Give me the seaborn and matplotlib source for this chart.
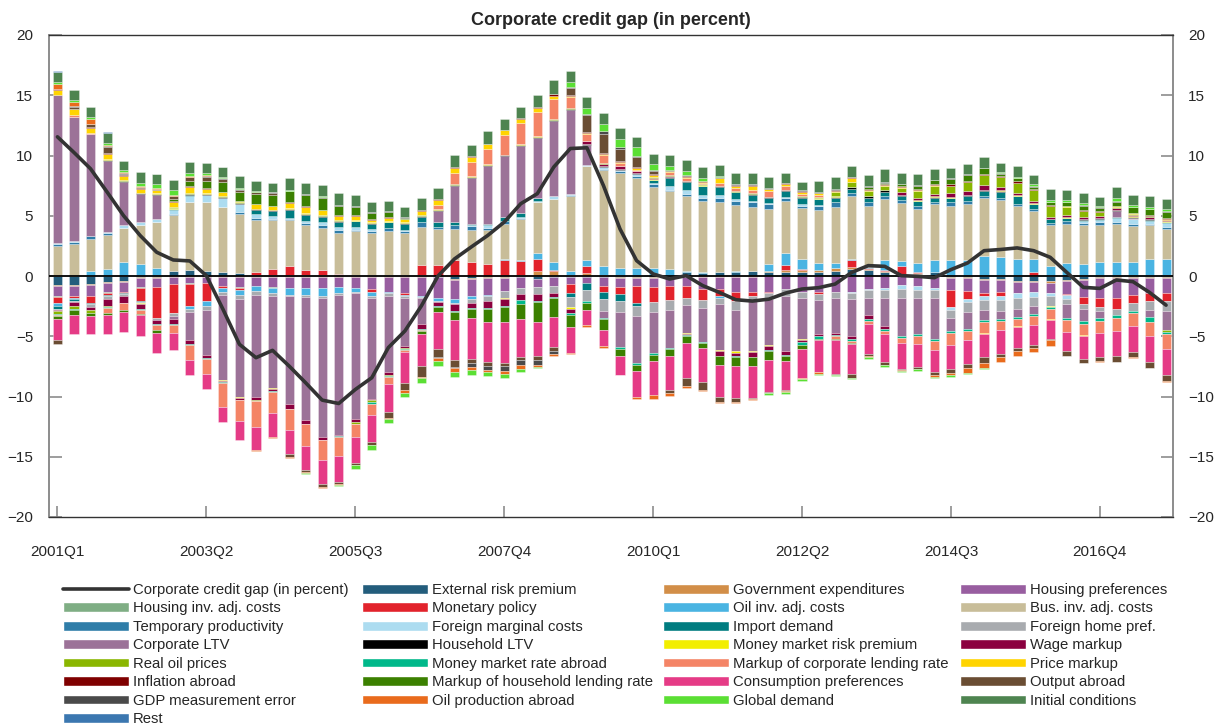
import numpy as np
import matplotlib
matplotlib.use("Agg")
import matplotlib.pyplot as plt
from matplotlib.patches import Patch
from matplotlib.lines import Line2D
import seaborn as sns

# quarters 2001Q1 .. 2017Q4
QUARTERS = [f"{y}Q{q}" for y in range(2001, 2018) for q in range(1, 5)]

# Corporate credit gap (line)
GAP = [11.55, 10.25, 8.9, 6.97, 5.0, 3.36, 1.97, 1.33, 1.25, 0.03, -2.75, -5.67, -6.78, -6.17, -7.47, -8.86, -10.3,
       -10.58, -9.42, -8.44, -5.94, -4.56, -2.47, 0.0, 1.42, 2.4, 3.36, 4.47, 6.0, 6.83, 9.05, 10.58, 10.64, 7.5,
       3.9, 1.28, 0.17, -0.25, 0.03, -0.8, -1.36, -1.97, -2.08, -1.92, -1.42, -1.08, -0.97, -0.67, 0.3, 0.86, 0.8,
       0.03, -0.03, -0.14, 0.53, 1.08, 2.1, 2.2, 2.33, 2.1, 1.55, 0.3, -0.94, -1.03, -0.33, -0.47, -1.36, -2.42]

# shock contributions, in stacking order
ERP = [-0.75, -0.75, -0.65, -0.5, -0.4, -0.1, -0.1, 0.4, 0.5, 0.45, 0.3, 0.25, 0.05, 0.05, 0.05, 0.05, 0.05,
       0.05, 0.05, 0.05, 0.05, 0.05, 0.05, -0.05, -0.25, -0.2, -0.1, -0.1, -0.1, -0.25, -0.1, -0.1, -0.1, -0.1,
       -0.1, -0.1, -0.1, -0.1, 0.3, 0.25, 0.35, 0.35, 0.4, 0.3, 0.35, 0.3, 0.3, 0.45, 0.55, 0.5, 0.3,
       0.1, 0.15, 0.3, -0.1, -0.1, -0.25, -0.25, -0.4, -0.4, -0.45, -0.3, -0.25, -0.1, -0.1, -0.1, -0.1, -0.1]
GOV = [-0.05, -0.05, -0.1, -0.1, -0.08, -0.1, -0.05, -0.05, -0.05, -0.05, -0.05, -0.05, -0.05, -0.05, -0.05, -0.05, -0.05,
       -0.05, -0.05, -0.05, -0.05, -0.05, -0.05, -0.05, -0.05, -0.05, -0.05, -0.05, 0.1, 0.4, 0.45, 0.1, 0.25, 0.1,
       -0.05, -0.05, -0.05, -0.05, -0.05, -0.05, -0.05, -0.05, -0.05, 0.1, 0.15, 0.2, 0.2, 0.2, 0.2, 0.1, 0.15,
       0.1, 0.1, -0.1, -0.1, -0.1, -0.1, -0.1, -0.1, -0.1, -0.1, -0.1, -0.1, -0.1, -0.1, -0.1, -0.1, -0.1]
HP = [-0.9, -0.85, -0.9, -0.75, -0.85, -0.75, -0.8, -0.6, -0.55, -0.5, -0.75, -0.9, -0.8, -0.85, -0.95, -0.95, -0.95,
      -0.85, -0.95, -1.0, -1.3, -1.35, -1.6, -1.75, -1.6, -1.45, -1.4, -1.1, -0.9, -0.7, -0.7, -0.55, -0.45, -0.75,
      -0.8, -0.65, -0.75, -0.7, -0.8, -1.0, -1.0, -1.3, -1.3, -1.3, -1.1, -1.3, -1.3, -1.3, -1.3, -1.1, -1.0,
      -0.75, -0.85, -0.9, -1.0, -1.05, -1.05, -0.95, -0.9, -0.85, -0.85, -1.1, -1.4, -1.6, -1.6, -1.4, -1.2, -1.2]
HIA = [-0.05, -0.05, 0.0, -0.05, 0.0, -0.05, 0.0, 0.0, -0.05, 0.0, 0.0, -0.05, 0.0, -0.1, 0.0, 0.0, 0.0,
       0.0, 0.0, 0.0, 0.0, 0.0, 0.0, 0.0, 0.0, 0.0, 0.0, 0.0, 0.0, 0.0, 0.0, 0.0, 0.0, 0.0,
       0.0, -0.05, 0.0, 0.0, 0.0, 0.0, 0.0, 0.0, 0.0, 0.0, 0.0, 0.0, 0.0, 0.0, 0.0, 0.0, 0.0,
       0.0, 0.0, 0.0, 0.0, 0.0, 0.0, 0.0, 0.0, 0.0, 0.0, 0.0, 0.0, 0.0, 0.0, 0.0, 0.0, 0.0]
MP = [-0.45, -0.15, -0.6, -0.2, -0.1, -1.1, -2.5, -2.4, -1.85, -1.55, -0.2, -0.2, 0.25, 0.5, 0.8, 0.45, 0.45,
      0.1, 0.05, -0.3, 0.05, -0.2, 0.85, 0.9, 1.3, 1.2, 1.0, 1.3, 1.15, 1.05, 0.05, -0.8, 0.55, -0.5,
      -0.55, -1.35, -1.25, -1.15, -0.95, -0.95, -0.6, -0.75, -0.3, -0.1, 0.4, 0.05, -0.2, 0.05, 0.55, 0.05, 0.05,
      0.6, 0.05, 0.05, -1.4, -0.65, -0.25, -0.35, -0.05, 0.3, -0.05, -0.05, -0.55, -0.75, -0.95, -0.65, -0.65, -0.65]
OIA = [-0.3, -0.1, 0.4, 0.6, 1.2, 1.0, 0.65, -0.05, -0.2, -0.35, -0.3, -0.35, -0.4, -0.45, -0.55, -0.55, -0.7,
       -0.5, -0.35, -0.3, -0.1, -0.1, -0.1, -0.2, -0.35, -0.2, -0.1, 0.1, 0.1, 0.5, 0.7, 0.3, 0.5, 0.7,
       0.7, 0.7, 0.65, 0.6, 0.1, 0.05, -0.15, 0.05, 0.05, 0.6, 1.0, 0.9, 0.6, 0.35, 0.1, 0.1, 0.8,
       0.45, 0.75, 1.0, 1.3, 1.3, 1.65, 1.6, 1.4, 1.1, 0.8, 1.1, 1.0, 1.15, 1.2, 1.2, 1.4, 1.4]
BIA = [2.5, 2.67, 2.7, 2.8, 2.75, 3.2, 3.8, 4.7, 5.6, 5.65, 5.4, 4.9, 4.35, 4.1, 3.8, 3.7, 3.45,
       3.45, 3.65, 3.55, 3.65, 3.5, 3.2, 3.0, 2.6, 2.65, 2.8, 2.9, 3.4, 4.15, 5.15, 6.25, 7.8, 8.0,
       7.85, 7.4, 6.75, 6.45, 6.25, 5.95, 5.8, 5.5, 5.3, 4.6, 4.35, 4.2, 4.4, 4.7, 5.2, 5.1, 5.05,
       4.8, 4.5, 4.6, 4.55, 4.7, 4.8, 4.7, 4.4, 4.0, 3.4, 3.25, 3.2, 3.1, 3.15, 2.95, 2.8, 2.5]
TP = [0.15, 0.15, 0.2, 0.2, 0.05, 0.05, 0.05, 0.05, 0.05, 0.05, 0.05, 0.2, 0.2, 0.1, 0.05, 0.2, 0.25,
      0.25, 0.1, 0.15, 0.2, 0.2, 0.35, 0.15, 0.3, 0.3, 0.2, 0.25, 0.1, 0.05, 0.05, 0.05, 0.05, 0.05,
      0.15, 0.2, 0.2, 0.1, 0.15, 0.2, 0.3, 0.3, 0.35, 0.35, 0.2, 0.2, 0.3, 0.35, 0.3, 0.3, 0.3,
      0.25, 0.3, 0.2, 0.25, 0.2, 0.2, 0.15, 0.2, 0.2, 0.2, 0.25, 0.2, 0.25, 0.15, 0.15, 0.15, 0.2]
FMC = [0.05, 0.05, 0.05, 0.05, 0.2, 0.25, 0.2, 0.35, 0.5, 0.55, 0.7, 0.6, 0.3, 0.25, 0.15, 0.2, 0.25,
       0.25, 0.25, 0.15, 0.05, 0.05, 0.05, 0.05, 0.05, 0.05, 0.2, 0.05, 0.05, 0.05, 0.2, 0.1, 0.1, 0.2,
       0.1, 0.15, 0.15, 0.35, 0.3, 0.25, 0.3, 0.2, 0.1, 0.1, 0.1, 0.1, 0.1, 0.05, -0.15, -0.1, -0.2,
       -0.3, -0.3, -0.2, -0.2, -0.25, -0.35, -0.35, -0.4, -0.4, -0.2, -0.35, 0.15, 0.15, 0.35, 0.4, 0.25, 0.3]
IMD = [-0.2, -0.1, -0.1, -0.05, -0.05, -0.05, 0.05, 0.05, 0.05, 0.05, 0.05, 0.05, 0.35, 0.4, 0.65, 0.5, 0.45,
       0.4, 0.45, 0.45, 0.45, 0.55, 0.4, 0.4, 0.2, 0.1, 0.1, 0.3, 0.35, 0.25, 0.05, -0.3, -0.6, -0.6,
       -0.55, -0.25, 0.2, 0.65, 0.7, 0.75, 0.65, 0.55, 0.55, 0.4, 0.5, 0.55, 0.45, 0.3, 0.35, 0.35, 0.35,
       0.35, 0.35, 0.35, 0.35, 0.45, 0.4, 0.55, 0.6, 0.35, 0.3, 0.2, 0.1, 0.1, 0.05, 0.05, 0.05, 0.05]
FHP = [-0.1, -0.1, -0.25, -0.3, -0.2, -0.1, -0.2, -0.2, -0.3, -0.4, -0.3, -0.4, -0.3, -0.2, -0.15, -0.2, -0.1,
       -0.15, -0.1, -0.15, -0.25, -0.1, -0.1, -0.1, -0.1, -0.3, -0.4, -0.55, -0.5, -0.55, -0.65, -0.8, -0.9, -0.95,
       -0.95, -0.85, -0.85, -0.8, -0.6, -0.65, -0.55, -0.75, -0.4, -0.55, -0.6, -0.55, -0.5, -0.5, -0.5, -0.6, -0.6,
       -0.75, -0.7, -0.65, -0.7, -0.85, -0.85, -0.9, -0.85, -0.75, -0.8, -0.45, -0.45, -0.35, -0.5, -0.65, -0.75, -0.85]
CLTV = [12.3, 10.3, 8.4, 5.9, 3.6, 2.3, 2.0, -0.3, -2.35, -3.7, -7.0, -8.05, -8.5, -7.65, -8.9, -10.2, -11.6,
        -11.65, -10.4, -8.4, -6.3, -4.05, -2.15, 0.9, 3.0, 3.85, 4.85, 5.05, 5.55, 5.0, 6.2, 7.0, 1.6, -0.55,
        -2.9, -3.95, -3.4, -3.15, -2.3, -2.8, -3.8, -3.4, -4.15, -3.75, -4.5, -3.4, -2.8, -2.9, -3.0, -1.4, -2.35,
        -3.2, -3.0, -3.4, -1.05, -1.4, -0.8, -0.65, -0.7, -0.65, -0.05, -1.15, -1.0, -0.6, 0.5, 0.1, -0.6, -1.6]
HLTV = [0.0, 0.0, 0.0, 0.05, 0.05, 0.05, 0.05, 0.05, 0.08, 0.05, 0.05, 0.05, 0.05, 0.05, 0.08, 0.05, 0.05,
        0.05, 0.05, 0.05, 0.05, 0.05, 0.05, 0.08, 0.08, 0.08, 0.08, 0.08, 0.08, 0.08, 0.08, 0.1, 0.08, 0.05,
        0.05, 0.08, 0.05, 0.05, 0.05, 0.05, 0.05, 0.05, 0.05, 0.08, 0.05, 0.05, 0.05, 0.08, 0.1, 0.1, 0.1,
        0.05, 0.05, 0.05, 0.05, 0.05, 0.05, 0.05, 0.05, 0.05, 0.05, 0.05, 0.05, 0.05, 0.05, 0.05, 0.05, 0.05]
MMRP = [0.05, 0.05, 0.05, 0.1, 0.05, -0.1, 0.05, 0.05, 0.05, 0.05, -0.1, -0.15, 0.05, -0.05, 0.05, 0.05, 0.05,
        0.05, 0.05, 0.05, 0.05, 0.05, 0.05, 0.05, 0.05, 0.05, 0.05, -0.1, 0.05, 0.05, 0.05, -0.15, 0.05, 0.05,
        0.05, 0.05, 0.05, 0.05, -0.15, 0.05, -0.1, -0.1, -0.1, -0.1, -0.05, -0.1, 0.05, 0.1, 0.05, 0.05, 0.05,
        0.05, 0.05, 0.05, 0.05, 0.05, 0.05, 0.05, 0.05, 0.05, -0.1, 0.05, 0.05, 0.05, 0.05, 0.05, 0.05, 0.05]
WM = [-0.1, -0.3, -0.25, -0.55, -0.55, -0.4, -0.35, -0.4, -0.3, -0.25, -0.1, -0.1, -0.2, -0.2, -0.4, -0.3, -0.2,
      -0.1, -0.3, -0.1, -0.2, -0.1, -0.4, -0.35, -0.55, -0.45, -0.6, -0.55, -0.5, -0.55, -0.3, -0.4, 0.2, 0.15,
      0.2, 0.1, 0.1, 0.05, -0.05, -0.05, -0.35, -0.3, -0.4, -0.35, -0.3, -0.15, -0.2, -0.2, -0.25, -0.4, -0.25,
      0.2, 0.2, 0.2, 0.35, 0.3, 0.4, 0.3, 0.15, 0.15, 0.15, 0.15, 0.15, 0.1, 0.15, 0.15, 0.15, 0.1]
ROP = [-0.25, -0.3, -0.2, -0.1, 0.05, 0.05, 0.05, 0.05, 0.05, 0.05, 0.05, 0.05, -0.1, 0.05, 0.05, 0.05, 0.05,
       0.05, -0.1, -0.15, -0.1, -0.1, 0.05, 0.05, 0.05, 0.05, 0.05, 0.05, 0.05, 0.05, 0.05, 0.05, 0.05, 0.05,
       0.05, 0.05, 0.05, 0.05, 0.05, 0.05, 0.05, 0.05, 0.05, 0.05, 0.05, 0.05, 0.1, 0.35, 0.4, 0.4, 0.35,
       0.35, 0.55, 0.7, 0.55, 0.75, 0.85, 0.8, 0.9, 0.9, 0.95, 0.7, 0.5, 0.35, 0.1, 0.05, 0.05, -0.15]
MMRA = [-0.1, -0.05, -0.05, -0.05, -0.05, -0.05, -0.05, -0.05, -0.05, -0.05, -0.05, -0.05, -0.05, -0.05, -0.05, -0.05, -0.05,
        -0.05, -0.05, -0.15, -0.05, -0.05, -0.05, -0.05, -0.05, -0.05, -0.05, -0.1, -0.3, -0.1, -0.05, -0.1, -0.2, -0.1,
        -0.15, -0.1, -0.15, -0.1, -0.1, -0.05, -0.05, -0.05, -0.05, -0.05, -0.05, -0.2, -0.2, -0.1, -0.2, -0.15, -0.15,
        -0.15, -0.15, -0.15, -0.15, -0.2, -0.15, -0.2, -0.15, -0.15, -0.1, -0.15, -0.2, -0.2, -0.25, -0.2, -0.4, -0.15]
MCL = [-0.05, 0.15, 0.05, -0.4, -0.55, -0.35, -0.45, -0.7, -1.25, -1.3, -2.0, -1.75, -2.1, -1.75, -1.75, -1.8, -1.65,
       -1.6, -1.1, -0.9, -0.6, -0.2, -0.1, 0.35, 0.95, 1.1, 1.25, 1.65, 1.75, 1.95, 1.7, 0.9, 0.55, 0.7,
       0.25, 0.05, 0.05, 0.25, 0.25, 0.1, 0.25, 0.25, 0.3, 0.5, 0.35, 0.2, 0.2, -0.25, -0.2, -0.2, -0.3,
       -0.45, -0.65, -0.75, -1.05, -0.7, -0.95, -0.7, -0.6, -0.8, -0.9, -1.0, -0.95, -1.05, -1.1, -1.05, -1.2, -1.25]
PM = [0.4, 0.45, 0.45, 0.45, 0.35, 0.35, 0.2, 0.45, 0.5, 0.35, 0.35, 0.1, 0.35, 0.3, 0.4, 0.5, 0.4,
      0.35, 0.35, 0.2, 0.3, 0.25, 0.35, 0.35, 0.4, 0.45, 0.35, 0.35, 0.3, 0.35, 0.2, 0.05, 0.05, 0.05,
      0.05, 0.2, 0.15, 0.1, 0.1, 0.1, 0.35, 0.2, 0.35, 0.1, 0.15, 0.2, 0.1, 0.1, 0.3, 0.05, 0.05,
      0.05, 0.05, 0.05, 0.05, -0.05, -0.05, -0.05, -0.05, 0.05, -0.05, 0.05, -0.05, 0.05, 0.05, 0.05, 0.05, 0.05]
INF = [0.05, 0.05, 0.05, 0.05, 0.05, 0.05, 0.05, 0.05, 0.05, 0.05, 0.05, 0.05, 0.05, 0.05, 0.05, 0.05, 0.05,
       0.05, 0.05, 0.05, 0.05, 0.05, 0.05, 0.1, 0.1, 0.05, 0.05, 0.05, 0.05, 0.1, 0.15, 0.15, 0.1, 0.1,
       0.1, 0.05, 0.05, 0.05, 0.05, 0.05, 0.05, 0.05, 0.05, 0.05, 0.05, 0.05, 0.05, 0.05, 0.1, 0.1, 0.1,
       0.1, 0.1, 0.1, 0.1, 0.1, 0.1, 0.1, 0.1, 0.1, 0.05, 0.05, 0.1, 0.05, 0.05, 0.05, 0.05, 0.1]
MHL = [-0.3, -0.4, -0.2, -0.2, -0.15, -0.1, -0.2, 0.2, 0.45, 0.6, 0.8, 0.7, 0.8, 0.85, 0.9, 0.95, 1.0,
       0.8, 0.7, 0.55, 0.45, 0.1, -0.25, -0.45, -0.7, -0.8, -1.1, -1.3, -1.3, -1.65, -1.6, -1.05, -0.55, -0.9,
       -0.55, -0.55, -0.5, -0.55, -0.55, -0.4, -0.7, -0.75, -0.75, -0.8, -0.45, -0.35, -0.15, -0.1, -0.05, 0.2, 0.1,
       0.15, 0.3, 0.3, 0.45, 0.5, 0.45, 0.2, 0.25, 0.15, 0.2, 0.25, 0.35, 0.25, 0.3, 0.45, 0.5, 0.55]
CP = [-1.75, -1.6, -1.55, -1.6, -1.65, -1.7, -1.7, -1.4, -1.25, -1.25, -1.3, -1.6, -1.95, -2.05, -1.95, -2.0, -2.0,
      -2.15, -2.15, -2.3, -2.35, -2.6, -2.7, -3.05, -3.35, -3.4, -3.35, -3.35, -3.1, -2.85, -2.5, -2.1, -1.3, -1.4,
      -1.6, -2.15, -2.85, -2.9, -2.95, -2.85, -2.65, -2.7, -2.6, -2.65, -2.45, -2.4, -2.6, -2.75, -2.5, -2.5, -2.3,
      -2.1, -1.9, -1.8, -1.95, -1.95, -1.95, -1.95, -1.75, -1.6, -1.6, -1.6, -1.95, -2.0, -2.0, -2.15, -2.15, -2.15]
OUT = [-0.3, 0.15, 0.25, 0.5, 0.15, 0.05, 0.05, 0.2, 0.3, 0.35, 0.25, 0.2, 0.15, 0.2, -0.3, -0.2, -0.25,
       -0.2, -0.1, -0.2, -0.45, -0.6, -0.85, -0.7, -0.55, -0.35, -0.35, -0.3, -0.3, -0.35, -0.3, 0.55, 1.45, 1.6,
       1.0, 0.85, 0.3, -0.25, -0.6, -0.7, -0.45, -0.3, -0.1, -0.05, -0.05, -0.05, -0.05, -0.1, -0.3, -0.2, -0.2,
       -0.1, -0.15, -0.3, -0.35, -0.35, -0.5, -0.3, -0.3, -0.25, -0.1, -0.35, -0.3, -0.3, -0.5, -0.45, -0.45, -0.55]
GDP = [0.05, 0.05, 0.05, 0.05, 0.05, 0.05, 0.05, 0.05, 0.05, 0.05, 0.05, 0.05, 0.05, 0.05, 0.05, 0.05, 0.05,
       0.05, 0.05, 0.05, 0.05, 0.05, -0.05, -0.05, -0.1, -0.3, -0.3, -0.35, -0.4, -0.35, -0.3, 0.05, 0.1, 0.2,
       0.15, 0.1, 0.05, 0.05, 0.05, 0.05, 0.05, 0.05, 0.05, 0.05, 0.05, 0.05, 0.05, 0.05, 0.05, 0.05, 0.05,
       0.05, 0.05, 0.05, 0.05, 0.05, 0.05, 0.05, 0.05, 0.05, 0.05, 0.05, 0.05, 0.05, 0.05, 0.05, 0.05, 0.05]
OPA = [0.4, 0.4, 0.35, 0.1, 0.05, 0.05, 0.05, 0.05, 0.05, 0.05, 0.05, 0.05, -0.05, -0.05, -0.05, -0.05, -0.05,
       -0.05, -0.05, -0.05, -0.15, -0.2, -0.1, -0.25, -0.3, -0.25, -0.15, -0.3, -0.3, -0.2, -0.1, -0.1, -0.1, -0.1,
       -0.05, -0.15, -0.3, -0.2, -0.2, -0.05, -0.05, -0.05, -0.05, -0.05, -0.05, -0.05, -0.15, -0.05, -0.05, -0.05, -0.05,
       -0.05, -0.05, -0.15, -0.2, -0.4, -0.35, -0.4, -0.4, -0.35, -0.5, -0.05, -0.05, -0.05, -0.05, -0.05, -0.05, -0.05]
GD = [0.15, 0.15, 0.2, 0.2, 0.2, 0.3, 0.35, 0.4, 0.3, 0.2, 0.1, 0.05, 0.05, 0.05, 0.05, -0.1, 0.05,
      -0.1, -0.3, -0.35, -0.3, -0.35, -0.35, -0.4, -0.4, -0.4, -0.35, -0.35, -0.3, -0.1, 0.05, 0.45, 0.45, 0.6,
      0.7, 0.7, 0.5, 0.35, 0.35, 0.25, 0.1, 0.05, 0.05, -0.1, -0.2, -0.2, -0.1, -0.05, -0.05, -0.15, -0.15,
      -0.1, -0.15, -0.05, -0.1, -0.1, -0.1, 0.1, 0.1, 0.15, 0.15, 0.15, 0.15, 0.15, 0.3, 0.15, 0.15, 0.15]
IC = [0.85, 0.85, 0.85, 0.85, 0.75, 0.85, 0.8, 0.85, 0.85, 0.85, 0.8, 1.0, 0.85, 0.7, 1.0, 0.95, 0.95,
      0.95, 0.9, 0.85, 0.85, 0.8, 1.0, 0.9, 0.95, 0.95, 1.05, 0.9, 0.95, 0.95, 1.1, 0.9, 0.95, 0.9,
      0.9, 0.85, 0.85, 0.9, 0.9, 0.9, 0.95, 0.9, 0.9, 0.9, 0.8, 0.7, 0.9, 1.0, 0.85, 0.9, 1.1,
      0.9, 0.9, 0.9, 0.85, 0.85, 0.9, 0.75, 0.85, 0.75, 0.9, 0.85, 0.85, 0.7, 0.85, 0.8, 0.85, 0.85]
REST = [0.03, 0.0, 0.0, 0.03, 0.0, 0.0, 0.03, 0.0, 0.0, 0.0, 0.03, 0.0, 0.0, 0.0, 0.0, 0.0, 0.0,
        0.0, 0.0, 0.0, 0.0, 0.0, 0.0, 0.0, 0.0, 0.0, 0.0, 0.0, 0.0, 0.0, 0.0, 0.0, 0.0, 0.0,
        0.0, 0.0, 0.0, 0.0, 0.0, 0.0, 0.0, 0.0, 0.0, 0.0, 0.0, 0.0, 0.0, 0.0, 0.0, 0.0, 0.0,
        0.0, 0.0, 0.0, 0.0, 0.0, 0.0, 0.0, 0.0, 0.0, 0.0, 0.0, 0.0, 0.0, 0.0, 0.0, 0.0, 0.0]

COMPONENTS = [
    ("External risk premium", ERP), ("Government expenditures", GOV), ("Housing preferences", HP),
    ("Housing inv. adj. costs", HIA), ("Monetary policy", MP), ("Oil inv. adj. costs", OIA),
    ("Bus. inv. adj. costs", BIA), ("Temporary productivity", TP), ("Foreign marginal costs", FMC),
    ("Import demand", IMD), ("Foreign home pref.", FHP), ("Corporate LTV", CLTV),
    ("Household LTV", HLTV), ("Money market risk premium", MMRP), ("Wage markup", WM),
    ("Real oil prices", ROP), ("Money market rate abroad", MMRA), ("Markup of corporate lending rate", MCL),
    ("Price markup", PM), ("Inflation abroad", INF), ("Markup of household lending rate", MHL),
    ("Consumption preferences", CP), ("Output abroad", OUT), ("GDP measurement error", GDP),
    ("Oil production abroad", OPA), ("Global demand", GD), ("Initial conditions", IC), ("Rest", REST),
]

COLORS = {
    "External risk premium": "#235d7c", "Government expenditures": "#d28e48",
    "Housing preferences": "#985ea0", "Housing inv. adj. costs": "#7fae84",
    "Monetary policy": "#e2232c", "Oil inv. adj. costs": "#4ab4e2",
    "Bus. inv. adj. costs": "#c8bd99", "Temporary productivity": "#2f7da8",
    "Foreign marginal costs": "#acdcf0", "Import demand": "#007c80",
    "Foreign home pref.": "#a8abaf", "Corporate LTV": "#9c7298",
    "Household LTV": "#000000", "Money market risk premium": "#f2ee00",
    "Wage markup": "#8b003f", "Real oil prices": "#8ab600",
    "Money market rate abroad": "#00b88a", "Markup of corporate lending rate": "#f48466",
    "Price markup": "#ffd400", "Inflation abroad": "#7f0000",
    "Markup of household lending rate": "#3b8000", "Consumption preferences": "#e53b86",
    "Output abroad": "#6a4d33", "GDP measurement error": "#4a4a4a",
    "Oil production abroad": "#e96b1c", "Global demand": "#5bdf34",
    "Initial conditions": "#4e8450", "Rest": "#3b77b0",
}
LINE_LABEL = "Corporate credit gap (in percent)"

sns.set_theme(style="white")
plt.rcParams["font.family"] = ["Liberation Sans", "DejaVu Sans"]

W, H = 1219, 724
fig, ax = plt.subplots(figsize=(W / 100, H / 100), dpi=100)
fig.subplots_adjust(left=48.5 / W, right=1173 / W, top=1 - 35 / H, bottom=1 - 517 / H)

x = np.arange(len(QUARTERS))
pos_base = np.zeros(len(x))
neg_base = np.zeros(len(x))
for name, vals in COMPONENTS:
    v = np.asarray(vals, dtype=float)
    for mask, base in ((v > 0, pos_base), (v < 0, neg_base)):
        if mask.any():
            ax.bar(x[mask], v[mask], bottom=base[mask], width=0.55, color=COLORS[name],
                   edgecolor=(1, 1, 1, 0.55), linewidth=0.4, zorder=2)
            base[mask] += v[mask]

ax.axhline(0, color="black", lw=1.3, zorder=3)
sns.lineplot(x=x, y=GAP, ax=ax, color="#333333", lw=2.6, zorder=4)

ax.set_xlim(-0.54, len(x) - 1 + 0.42)
ax.set_ylim(-20, 20)
ax.set_yticks(range(-20, 21, 5))
ax.set_xticks(x[::9])
ax.set_xticklabels(QUARTERS[::9])
ax.tick_params(axis="y", left=True, right=True, labelleft=True, labelright=True,
               direction="in", length=9, width=1.2, color="#8c8c8c", labelsize=11, pad=11)
ax.tick_params(axis="x", bottom=True, direction="in", length=8, width=1.2,
               color="#8c8c8c", labelsize=11, pad=20)
for side in ("left", "right"):
    ax.spines[side].set_color("#8c8c8c")
    ax.spines[side].set_linewidth(1.4)
for side in ("top", "bottom"):
    ax.spines[side].set_color("#333333")
    ax.spines[side].set_linewidth(1.0)
ax.set_xlabel("")
ax.set_ylabel("")
ax.set_title("Corporate credit gap (in percent)", fontsize=13, fontweight="bold", pad=7)

# legend: 4 fixed-width columns, filled row by row
entries = [(LINE_LABEL, Line2D([0], [0], color="#333333", lw=2.6))]
entries += [(name, Patch(facecolor=COLORS[name])) for name, _ in COMPONENTS]
col_x = [63, 362, 663, 960]
for j, cx in enumerate(col_x):
    col = entries[j::4]
    fig.legend([h for _, h in col], [l for l, _ in col], loc="upper left",
               bbox_to_anchor=(cx / W, 1 - 583 / H), frameon=False, fontsize=10.7,
               handlelength=4.45, handleheight=0.62, handletextpad=0.27,
               labelspacing=0.3, borderpad=0, borderaxespad=0)

fig.savefig("out.png", dpi=100)
